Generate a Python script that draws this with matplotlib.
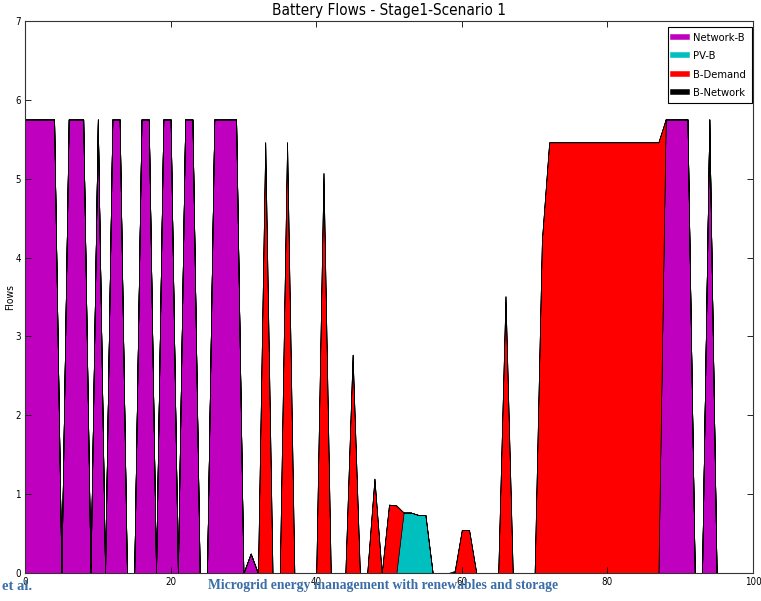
import matplotlib
matplotlib.use("Agg")
import matplotlib.pyplot as plt
from matplotlib.lines import Line2D

# Battery flows per period (stacked)
periods = list(range(96))

network_b = [0.0] * 96
for p in [0, 1, 2, 3, 4, 6, 7, 8, 10, 12, 13, 16, 17, 19, 20, 22, 23,
          26, 27, 28, 29, 88, 89, 90, 91, 94]:
    network_b[p] = 5.75
network_b[31] = 0.25

pv_b = [0.0] * 96
pv_b[52] = 0.77
pv_b[53] = 0.77
pv_b[54] = 0.74
pv_b[55] = 0.74

b_demand = [0.0] * 96
b_demand[33] = 5.46
b_demand[36] = 5.46
b_demand[41] = 5.07
b_demand[45] = 2.77
b_demand[48] = 1.20
b_demand[50] = 0.87
b_demand[51] = 0.86
b_demand[60] = 0.55
b_demand[61] = 0.55
b_demand[66] = 3.51
b_demand[71] = 4.22
for p in range(72, 88):
    b_demand[p] = 5.46

b_network = [0.0] * 96
b_network[59] = 0.03

series_labels = ["Network-B", "PV-B", "B-Demand", "B-Network"]
series_colors = ["#bf00bf", "#00bfbf", "#ff0000", "#000000"]

x_ticks = [0, 20, 40, 60, 80, 100]
y_ticks = [0, 1, 2, 3, 4, 5, 6, 7]

plt.rcParams["font.family"] = ["DejaVu Sans"]
plt.rcParams["font.stretch"] = "condensed"

fig = plt.figure(figsize=(7.61, 6.01), dpi=100)
fig.patch.set_facecolor("white")
W, H = 761.0, 601.0
ax = fig.add_axes([25 / W, (H - 573.3) / H, 728 / W, 552.6 / H])

ax.stackplot(periods, network_b, pv_b, b_demand, b_network,
             colors=series_colors, edgecolor="black", linewidth=0.45)

ax.set_xlim(0, 100)
ax.set_ylim(0, 7)
ax.set_xticks(x_ticks)
ax.set_yticks(y_ticks)
ax.tick_params(direction="in", top=True, right=True, length=4, width=0.6,
               labelsize=7, pad=3, colors="black")
for s in ax.spines.values():
    s.set_linewidth(0.8)
    s.set_color("#333333")

ax.set_title("Battery Flows - Stage1-Scenario 1", fontsize=11, pad=4)
ax.set_xlabel("Period", fontsize=7.5, labelpad=10)
ax.set_ylabel("Flows", fontsize=7.5)
ax.yaxis.set_label_coords(-10 / 728, 0.5)

handles = [Line2D([0], [0], color=c, lw=4) for c in series_colors]
leg = ax.legend(handles, series_labels, loc="upper right",
                bbox_to_anchor=(751.7 / W, 1 - 27.3 / H),
                bbox_transform=fig.transFigure, borderaxespad=0,
                fontsize=8, handlelength=1.25, handletextpad=0.55,
                labelspacing=0.75, borderpad=0.5, fancybox=False,
                framealpha=1, edgecolor="black")
leg.get_frame().set_linewidth(0.8)

# Running header of the page
blue = "#3b6ea8"
serif = ["Liberation Serif", "DejaVu Serif"]
fig.text(2 / W, 1 - 586 / H, "et al.", color=blue, fontsize=10.5,
         fontweight="bold", family=serif, fontstretch="normal",
         va="center", ha="left")
fig.text(208 / W, 1 - 586 / H,
         "Microgrid energy management with renewables and storage",
         color=blue, fontsize=9.8, fontweight="bold", family=serif,
         fontstretch="normal", va="center", ha="left")

fig.savefig("out.png", dpi=100, facecolor="white")
